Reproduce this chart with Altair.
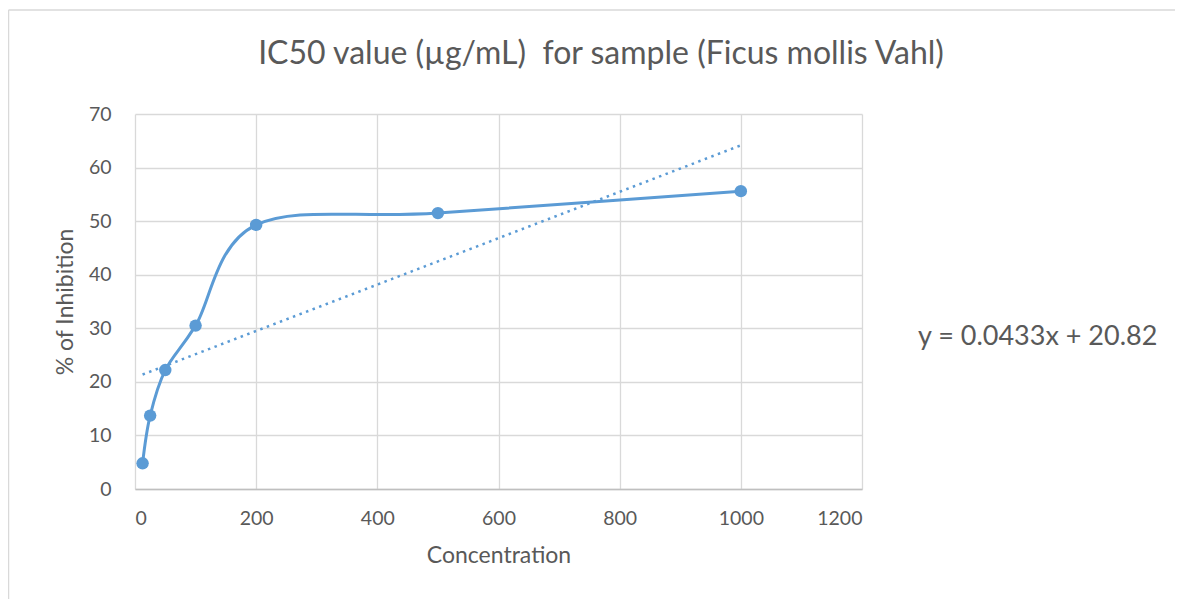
import altair as alt
import pandas as pd

# ---- data ----
concentration = [12.5, 25, 50, 100, 200, 500, 1000]
inhibition = [4.8, 13.7, 22.2, 30.5, 49.3, 51.5, 55.6]
x_ticks = [0, 200, 400, 600, 800, 1000, 1200]
y_ticks = [0, 10, 20, 30, 40, 50, 60, 70]
title_text = ["IC50 value (µg/mL)\u00a0 for sample (Ficus mollis Vahl)"]
equation_text = ["y = 0.0433x + 20.82"]

df = pd.DataFrame({"Concentration": concentration, "Inhibition": inhibition})
eq_df = pd.DataFrame({"label": equation_text})
title_df = pd.DataFrame({"label": title_text})
frame_df = pd.DataFrame({"k": [0]})

FONT = "Lato"
BLUE = "#5B9BD5"
TEXT = "#595959"

W, H = 727, 375

x_enc = alt.X(
    "Concentration:Q",
    scale=alt.Scale(domain=[0, 1200], nice=False),
    axis=alt.Axis(values=x_ticks, format="d", title="Concentration", labelPadding=20,
                  titlePadding=17, domain=True, domainColor="#BFBFBF", domainWidth=1.5),
)
y_enc = alt.Y(
    "Inhibition:Q",
    scale=alt.Scale(domain=[0, 70], nice=False),
    axis=alt.Axis(values=y_ticks, format="d", title="% of Inhibition", labelPadding=24,
                  titlePadding=11, domain=False),
)

base = alt.Chart(df)

curve = base.mark_line(interpolate="cardinal", color=BLUE, strokeWidth=3).encode(x=x_enc, y=y_enc)
points = base.mark_circle(color=BLUE, size=155, opacity=1).encode(x="Concentration:Q", y="Inhibition:Q")
trend = (
    base.transform_regression("Concentration", "Inhibition", method="linear")
    .mark_line(color=BLUE, strokeWidth=2.5, strokeDash=[2.5, 4.5])
    .encode(x="Concentration:Q", y="Inhibition:Q")
)
equation = alt.Chart(eq_df).mark_text(
    align="left", baseline="middle", font=FONT, fontSize=27, color=TEXT
).encode(text="label:N", x=alt.value(783), y=alt.value(223))

title = alt.Chart(title_df).mark_text(
    align="center", baseline="alphabetic", font=FONT, fontSize=32, color=TEXT
).encode(text="label:N", x=alt.value(466), y=alt.value(-50))

# chart-area border (only top and left edges are visible in the reference)
frame_top = alt.Chart(frame_df).mark_rule(stroke="#D9D9D9", strokeWidth=1.5).encode(
    x=alt.value(-126.5), x2=alt.value(1100), y=alt.value(-104)
)
frame_left = alt.Chart(frame_df).mark_rule(stroke="#D9D9D9", strokeWidth=1.5).encode(
    x=alt.value(-126.5), y=alt.value(-104), y2=alt.value(600)
)

chart = (
    alt.layer(frame_top, frame_left, trend, curve, points, equation, title)
    .properties(
        width=W,
        height=H,
        autosize=alt.AutoSizeParams(type="none"),
        padding={"left": 127, "top": 106, "right": 313, "bottom": 110},
        background="white",
    )
    .configure_view(stroke=None)
    .configure_axis(
        grid=True, gridColor="#D9D9D9", gridWidth=1.3, ticks=False,
        labelFont=FONT, labelFontSize=19.5, labelColor=TEXT,
        titleFont=FONT, titleFontSize=23, titleFontWeight="normal", titleColor=TEXT,
    )
)

chart.save("out.html", embed_options={"renderer": "svg", "actions": False})
